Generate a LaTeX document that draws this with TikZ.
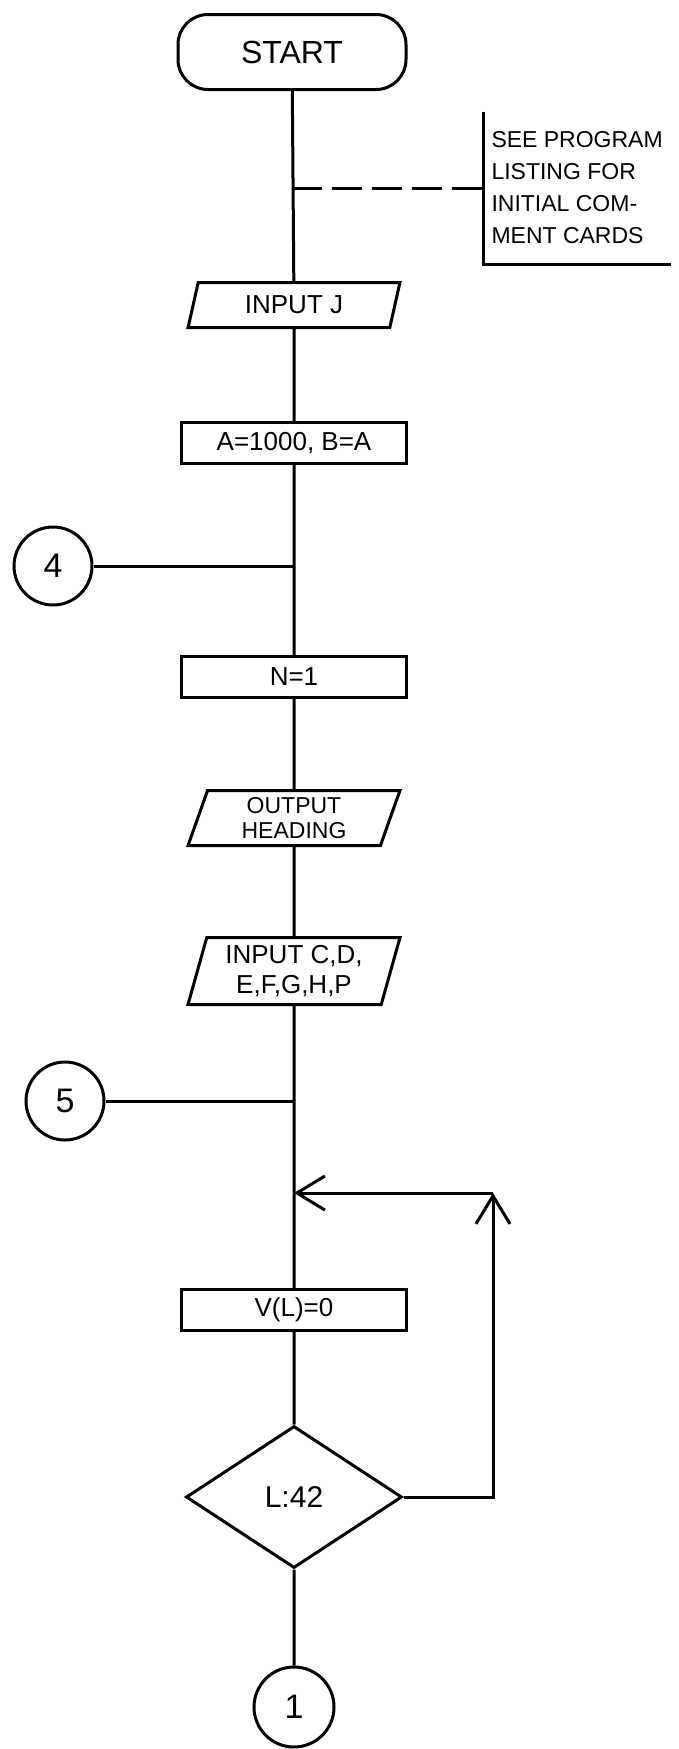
\documentclass[tikz,border=0pt]{standalone}
\usepackage{fontspec}
\setmainfont{Liberation Sans}
\usetikzlibrary{arrows.meta, positioning, shapes.geometric}
\tikzset{
  every picture/.style={line width=3pt},
  term/.style={draw, rounded corners=30pt, minimum width=228pt, minimum height=75pt, font=\fontsize{32}{36}\selectfont},
  box/.style={draw, minimum width=225pt, minimum height=41pt, inner sep=0pt, font=\fontsize{26}{30}\selectfont},
  io/.style={draw, trapezium, trapezium left angle=74, trapezium right angle=106, trapezium stretches=true, minimum width=212pt, align=center, inner sep=0pt, font=\fontsize{26}{30}\selectfont},
  decision/.style={draw, diamond, minimum width=216pt, minimum height=142pt, inner sep=0pt, font=\fontsize{30}{34}\selectfont},
  conn/.style={draw, circle, minimum size=78pt, inner sep=0pt, font=\fontsize{34}{38}\selectfont},
  note/.style={align=left, inner xsep=7pt, minimum height=150pt, font=\fontsize{23}{32}\selectfont},
  arrow/.style={-{Straight Barb[length=28pt, width=34pt]}},
}
\begin{document}
\begin{tikzpicture}[x=1pt, y=-1pt]
  \useasboundingbox (0,0) rectangle (679,1749);
  % main column
  \node[term] (start) at (292,52) {START};
  \node[io, minimum height=45pt] (inputj) at (294,305) {INPUT J};
  \node[box] (init) at (294,443) {A=1000, B=A};
  \node[box] (n1) at (294,677) {N=1};
  \node[io, minimum height=55pt, font=\fontsize{23}{25}\selectfont] (heading) at (294,818) {OUTPUT\\HEADING};
  \node[io, minimum height=67pt] (readin) at (294,971) {INPUT C,D,\\E,F,G,H,P};
  \node[box] (vzero) at (294,1310) {V(L)=0};
  \node[decision] (test) at (294,1497) {L:42};
  \node[conn, minimum size=80pt] (c1) at (294,1707) {1};
  % comment and connectors on the side
  \node[note, anchor=west] (note) at (483,188) {SEE PROGRAM\\LISTING FOR\\INITIAL COM-\\MENT CARDS};
  \node[conn] (c4) at (53,566) {4};
  \node[conn] (c5) at (65,1101) {5};
  \coordinate (jnote) at (note.west -| start);
  \coordinate (j4) at (c4 -| init);
  \coordinate (j5) at (c5 -| readin);
  \coordinate (loopup) at (493,1193);
  \coordinate (loopdown) at (loopup |- test.east);
  \coordinate (jloop) at (loopup -| vzero);
  % flow lines
  \draw (start) -- (inputj) -- (init) -- (n1) -- (heading) -- (readin) -- (vzero) -- (test) -- (c1);
  \draw (c4) -- (j4);
  \draw (c5) -- (j5);
  \draw[dash pattern=on 30pt off 10pt] (jnote) -- (note.west);
  \draw (note.north west) -- (note.south west) -- (note.south east);
  \draw[arrow] (test.east) -- (loopdown) -- (loopup);
  \draw[arrow] (loopup) -- (jloop);
\end{tikzpicture}
\end{document}
